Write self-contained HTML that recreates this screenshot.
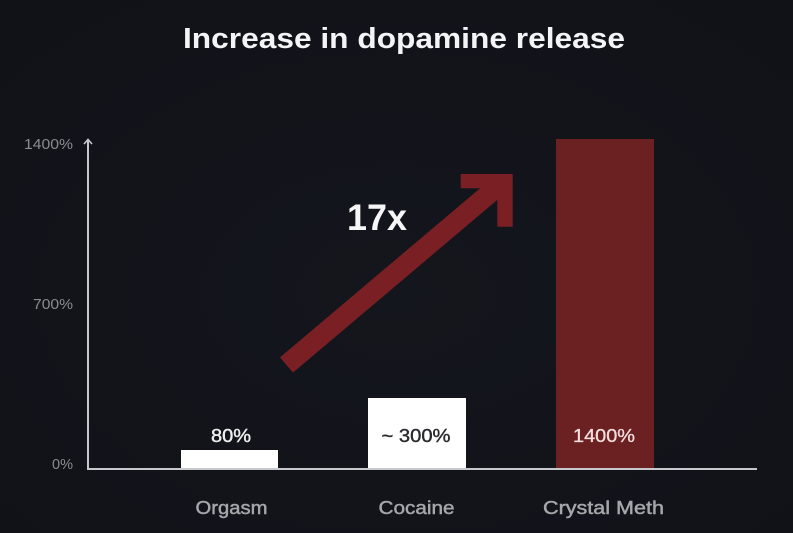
<!DOCTYPE html>
<html><head><meta charset="utf-8"><style>
html,body{margin:0;padding:0;background:#131419;}
svg{display:block;}
text{font-family:"Liberation Sans",sans-serif;}
</style></head><body>
<svg width="793" height="533" viewBox="0 0 793 533" xmlns="http://www.w3.org/2000/svg">
<defs>
<radialGradient id="bg" cx="50%" cy="55%" r="70%">
<stop offset="0" stop-color="#14161d"/>
<stop offset="1" stop-color="#111218"/>
</radialGradient>
</defs>
<rect width="793" height="533" fill="url(#bg)"/>
<text x="404" y="48" text-anchor="middle" font-size="29" font-weight="bold" fill="#f4f4f6" textLength="442" lengthAdjust="spacingAndGlyphs">Increase in dopamine release</text>

<!-- y tick labels -->
<g fill="#8b8c91" font-size="14.5" text-anchor="end">
<text x="73" y="149" textLength="49" lengthAdjust="spacingAndGlyphs">1400%</text>
<text x="73" y="309" textLength="40" lengthAdjust="spacingAndGlyphs">700%</text>
<text x="73" y="469" textLength="21" lengthAdjust="spacingAndGlyphs">0%</text>
</g>

<!-- bars -->
<rect x="181" y="450" width="97" height="19" fill="#ffffff"/>
<rect x="368" y="398" width="98" height="71" fill="#ffffff"/>
<rect x="556" y="139" width="98" height="330" fill="#6b2021"/>

<!-- axes -->
<line x1="88" y1="140" x2="88" y2="469" stroke="#c6c8cc" stroke-width="2"/>
<line x1="87" y1="469" x2="757" y2="469" stroke="#c6c8cc" stroke-width="2"/>
<polyline points="84,144 88,139.5 92,144" fill="none" stroke="#c6c8cc" stroke-width="1.6"/>

<!-- value labels -->
<text x="231" y="442" text-anchor="middle" font-size="18" fill="#eeeeee" stroke="#eeeeee" stroke-width="0.4" textLength="40" lengthAdjust="spacingAndGlyphs">80%</text>
<text x="416" y="442" text-anchor="middle" font-size="18" fill="#2a2a2e" stroke="#2a2a2e" stroke-width="0.4" textLength="69" lengthAdjust="spacingAndGlyphs">~ 300%</text>
<text x="604" y="442" text-anchor="middle" font-size="18" fill="#f3dede" stroke="#f3dede" stroke-width="0.3" textLength="62" lengthAdjust="spacingAndGlyphs">1400%</text>

<!-- category labels -->
<g fill="#a6a7ab" stroke="#a6a7ab" stroke-width="0.45" font-size="18" text-anchor="middle">
<text x="231.5" y="514" textLength="72" lengthAdjust="spacingAndGlyphs">Orgasm</text>
<text x="416.5" y="514" textLength="76" lengthAdjust="spacingAndGlyphs">Cocaine</text>
<text x="603.5" y="514" textLength="121" lengthAdjust="spacingAndGlyphs">Crystal Meth</text>
</g>

<!-- arrow -->
<line x1="286.5" y1="365" x2="503" y2="182" stroke="#7a2024" stroke-width="20"/>
<polygon points="460.7,174 512.7,174 512.7,226.7 497.3,226.7 497.3,188.3 460.7,188.3" fill="#7a2024"/>
<text x="377" y="230" text-anchor="middle" font-size="37" font-weight="bold" fill="#f6f6f6" textLength="60" lengthAdjust="spacingAndGlyphs">17x</text>
</svg>
</body></html>
